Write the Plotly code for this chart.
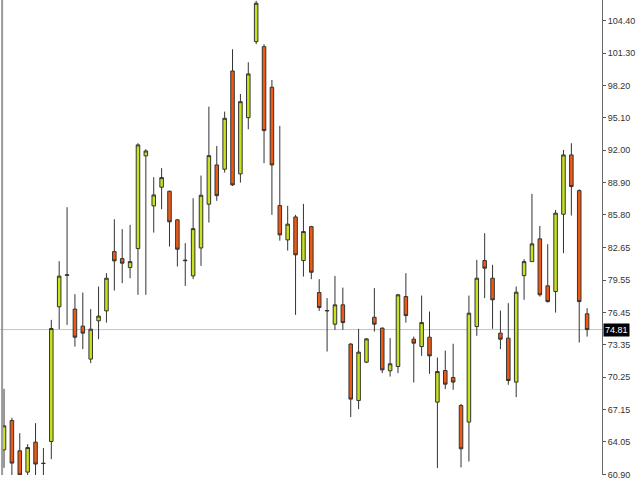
import plotly.graph_objects as go

# Bar index (no time labels shown in the chart)
bars = list(range(75))

opens = [63.29, 66.10, 63.20, 61.16, 64.03, 61.98, 64.09, 76.99, 80.00, 76.77,
         75.14, 71.98, 75.65, 76.60, 82.28, 81.61, 80.75, 82.57, 91.45, 86.66,
         88.45, 88.06, 85.32, 81.40, 79.95, 82.63, 86.82, 90.58, 90.17, 99.58,
         89.72, 95.11, 102.39, 101.91, 98.02, 86.69, 83.40, 85.60, 81.42, 84.67,
         78.36, 76.60, 75.33, 77.18, 73.42, 68.02, 71.69, 75.99, 74.95, 70.86,
         71.27, 77.97, 73.89, 73.18, 74.08, 67.86, 70.89, 70.22, 67.54, 65.95,
         75.10, 81.42, 79.73, 74.47, 73.99, 69.78, 79.98, 81.32, 83.50, 79.00,
         78.45, 85.86, 91.54, 88.12, 76.32]
highs = [69.13, 66.36, 64.89, 63.84, 65.85, 63.46, 75.74, 81.36, 86.53, 78.20,
         78.36, 76.77, 78.93, 80.21, 85.38, 84.43, 84.84, 92.66, 92.09, 89.41,
         90.27, 88.12, 85.41, 83.09, 87.39, 89.56, 96.17, 92.40, 95.69, 101.66,
         97.38, 100.42, 106.30, 102.14, 98.72, 94.32, 86.66, 85.80, 86.85, 84.74,
         79.64, 77.82, 79.95, 78.83, 73.51, 74.88, 73.99, 78.78, 75.00, 73.99,
         78.23, 80.21, 74.14, 78.07, 76.54, 72.13, 72.80, 73.45, 67.70, 78.07,
         81.49, 84.04, 81.01, 76.63, 77.34, 78.93, 81.55, 87.81, 84.74, 82.99,
         86.27, 92.02, 92.66, 88.25, 76.86]
lows = [61.57, 60.61, 60.52, 60.74, 60.61, 60.45, 62.40, 74.85, 75.26, 73.18,
        72.94, 71.60, 73.89, 75.48, 78.55, 79.26, 79.73, 78.14, 78.14, 84.10,
        86.34, 82.76, 80.85, 78.99, 79.64, 80.91, 85.06, 87.14, 89.85, 88.57,
        88.89, 94.00, 102.14, 90.75, 85.80, 83.33, 82.38, 76.22, 79.89, 79.64,
        76.60, 72.71, 74.78, 74.78, 66.43, 67.19, 71.60, 74.62, 70.64, 70.31,
        70.64, 75.48, 69.74, 72.29, 70.57, 61.54, 69.11, 69.04, 61.60, 62.17,
        74.21, 77.82, 74.88, 72.94, 69.52, 68.34, 77.66, 81.32, 77.97, 77.40,
        76.44, 82.13, 85.73, 73.57, 74.14]
closes = [65.59, 62.02, 60.90, 63.51, 61.93, 62.00, 74.91, 79.93, 80.05, 74.08,
          74.47, 74.85, 76.10, 79.73, 81.39, 81.17, 81.32, 92.50, 91.92, 87.71,
          89.37, 85.13, 82.51, 81.45, 84.48, 87.68, 91.47, 87.64, 95.05, 88.67,
          96.64, 99.30, 106.07, 93.87, 90.58, 83.88, 84.91, 81.97, 84.20, 80.30,
          76.92, 76.63, 77.18, 75.48, 68.15, 72.65, 73.92, 75.33, 70.95, 71.53,
          78.14, 76.15, 73.51, 75.48, 72.29, 70.79, 69.58, 69.78, 63.39, 76.38,
          79.73, 80.69, 77.66, 73.89, 69.93, 78.39, 81.32, 83.02, 78.14, 77.49,
          85.96, 91.54, 88.51, 77.49, 74.81]

tick_vals = [60.90, 64.05, 67.15, 70.25, 73.35, 76.45, 79.55, 82.65, 85.80,
             88.90, 92.00, 95.10, 98.20, 101.30, 104.40]
tick_text = ["60.90", "64.05", "67.15", "70.25", "73.35", "76.45", "79.55", "82.65",
             "85.80", "88.90", "92.00", "95.10", "98.20", "101.30", "104.40"]
last_price = 74.81

fig = go.Figure(go.Candlestick(
    x=bars, open=opens, high=highs, low=lows, close=closes,
    increasing=dict(fillcolor="#c8e21e", line=dict(color="#333333", width=1)),
    decreasing=dict(fillcolor="#ee5a14", line=dict(color="#333333", width=1)),
    whiskerwidth=0, hoverinfo="skip", showlegend=False,
))

fig.add_shape(type="line", xref="paper", yref="y", x0=0, x1=1,
              y0=last_price, y1=last_price, line=dict(color="#c4c4c4", width=1), layer="below")
fig.add_shape(type="line", xref="paper", yref="paper", x0=0.0035, x1=0.0035,
              y0=0, y1=1.02, line=dict(color="#9a9a9a", width=2))

fig.add_annotation(xref="paper", yref="y", x=1, y=last_price, xanchor="left",
                   yanchor="middle", text=f"{last_price:.2f}", showarrow=False,
                   bgcolor="#000000", font=dict(family="Liberation Sans", size=9, color="#ffffff"),
                   borderpad=1, xshift=1)

fig.update_layout(
    width=640, height=480,
    margin=dict(l=0, r=38, t=0, b=5),
    paper_bgcolor="white", plot_bgcolor="white",
    boxgap=0.36,
    xaxis=dict(visible=False, range=[-0.51, 75.89], rangeslider=dict(visible=False),
               showgrid=False, zeroline=False),
    yaxis=dict(side="right", range=[60.88, 106.38], tickvals=tick_vals, ticktext=tick_text,
               ticks="outside", ticklen=3, tickcolor="#555555", showgrid=False,
               zeroline=False, showline=True, linecolor="#6a6a6a", linewidth=1,
               tickfont=dict(family="Liberation Sans", size=9, color="#333333"),
               fixedrange=True),
)

fig.write_html("out.html", config={"displayModeBar": False},
               post_script="document.body.style.margin='0';document.body.style.overflow='hidden';")
